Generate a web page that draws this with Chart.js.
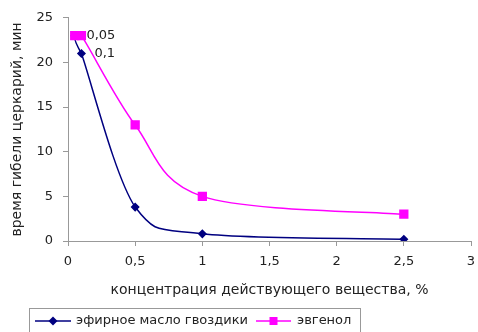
<!DOCTYPE html>
<html>
<head>
<meta charset="utf-8">
<script src="https://cdn.jsdelivr.net/npm/chart.js@4"></script>
<style>
  html, body { margin: 0; padding: 0; background: #fff; }
  #wrap { width: 478px; height: 332px; }
</style>
</head>
<body>
<div id="wrap"><canvas id="chart" width="478" height="332"></canvas></div>
<script>
'use strict';

/* ── Data ───────────────────────────────────────────────────────── */
const cloveX   = [0.05, 0.1, 0.5, 1, 2.5];
const cloveY   = [23, 21, 3.8, 0.8, 0.2];
const eugenolX = [0.05, 0.1, 0.5, 1, 2.5];
const eugenolY = [23, 23, 13, 5, 3];
const seriesNames = ['эфирное масло гвоздики', 'эвгенол'];
const xTitle = 'концентрация действующего вещества, %';
const yTitle = 'время гибели церкарий, мин';
// point labels: [datasetIndex, pointIndex, text]
const pointLabels = [[1, 1, '0,05'], [0, 1, '0,1']];

const FONT  = "'DejaVu Sans', sans-serif";
const TEXT  = '#222';
const BLUE  = '#000080';
const PINK  = '#FF00FF';

const toPts = (xs, ys) => xs.map((x, i) => ({ x, y: ys[i] }));
const clamp = (v, a, b) => Math.min(Math.max(v, Math.min(a, b)), Math.max(a, b));

/* ── Excel-like smoothing: control points = neighbour chord / 6 ── */
const excelSmooth = {
  id: 'excelSmooth',
  beforeDatasetsDraw(chart) {
    chart.data.datasets.forEach((d, i) => {
      const meta = chart.getDatasetMeta(i);
      meta.dataset.updateControlPoints(chart.chartArea, 'x');
      const pts = meta.data;
      pts.forEach((p, k) => {
        const prev = pts[Math.max(k - 1, 0)];
        const next = pts[Math.min(k + 1, pts.length - 1)];
        const dx = (next.x - prev.x) / 6, dy = (next.y - prev.y) / 6;
        p.cp1x = p.x - dx; p.cp1y = clamp(p.y - dy, p.y, prev.y);
        p.cp2x = p.x + dx; p.cp2y = clamp(p.y + dy, p.y, next.y);
      });
    });
  }
};

/* ── Point label plugin ─────────────────────────────────────────── */
const labelPlugin = {
  id: 'pointLabels',
  afterDatasetsDraw(chart) {
    const ctx = chart.ctx;
    ctx.save();
    ctx.font = '13px ' + FONT;
    ctx.fillStyle = TEXT;
    ctx.textBaseline = 'middle';
    pointLabels.forEach(([ds, idx, txt]) => {
      const el = chart.getDatasetMeta(ds).data[idx];
      if (!el) return;
      const dx = ds === 1 ? 5 : 13;
      ctx.fillText(txt, el.x + dx, el.y);
    });
    ctx.restore();
  }
};

/* ── Boxed legend plugin ────────────────────────────────────────── */
const legendBox = {
  id: 'legendBox',
  afterDraw(chart) {
    const ctx = chart.ctx;
    const y = 321;
    ctx.save();
    ctx.strokeStyle = '#999';
    ctx.lineWidth = 1;
    ctx.strokeRect(29.5, 308.5, 331, 40);
    ctx.font = '13px ' + FONT;
    ctx.textBaseline = 'middle';
    const items = [
      { ds: 0, x0: 35, x1: 71, tx: 76 },
      { ds: 1, x0: 256, x1: 291, tx: 297 }
    ];
    items.forEach(it => {
      const d = chart.data.datasets[it.ds];
      ctx.strokeStyle = d.borderColor;
      ctx.lineWidth = 1.5;
      ctx.beginPath(); ctx.moveTo(it.x0, y); ctx.lineTo(it.x1, y); ctx.stroke();
      const cx = (it.x0 + it.x1) / 2;
      ctx.fillStyle = d.pointBackgroundColor;
      if (d.pointStyle === 'rectRot') {
        ctx.beginPath();
        ctx.moveTo(cx, y - 4.5); ctx.lineTo(cx + 4.5, y); ctx.lineTo(cx, y + 4.5); ctx.lineTo(cx - 4.5, y);
        ctx.closePath(); ctx.fill();
      } else {
        ctx.fillRect(cx - 4, y - 4, 8, 8);
      }
      ctx.fillStyle = TEXT;
      ctx.fillText(d.label, it.tx, y);
    });
    ctx.restore();
  }
};

/* ── Chart ──────────────────────────────────────────────────────── */
new Chart(document.getElementById('chart'), {
  type: 'line',
  data: {
    datasets: [
      {
        label: seriesNames[0],
        data: toPts(cloveX, cloveY),
        borderColor: BLUE,
        backgroundColor: BLUE,
        pointBackgroundColor: BLUE,
        pointBorderColor: BLUE,
        pointStyle: 'rectRot',
        pointRadius: 3.5,
        borderWidth: 1.5,
        tension: 0.4,
        order: 1
      },
      {
        label: seriesNames[1],
        data: toPts(eugenolX, eugenolY),
        borderColor: PINK,
        backgroundColor: PINK,
        pointBackgroundColor: PINK,
        pointBorderColor: PINK,
        pointStyle: 'rect',
        pointRadius: 5.5,
        borderWidth: 1.5,
        tension: 0.4,
        order: 0
      }
    ]
  },
  options: {
    responsive: false,
    animation: false,
    layout: { padding: { top: 16, right: 0, bottom: 33, left: 0 } },
    plugins: { legend: { display: false }, tooltip: { enabled: false } },
    scales: {
      x: {
        type: 'linear',
        min: 0, max: 3,
        border: { color: '#999' },
        grid: { drawOnChartArea: false, tickLength: 5, color: '#999' },
        ticks: {
          stepSize: 0.5, padding: 8, color: TEXT,
          font: { family: FONT, size: 13 },
          callback: v => String(v).replace('.', ',')
        },
        title: {
          display: true, text: xTitle, color: TEXT,
          font: { family: FONT, size: 14 }, padding: 0
        },
        afterFit: s => { s.height = 58; s.paddingRight = 6; }
      },
      y: {
        min: 0, max: 25,
        border: { color: '#999' },
        grid: { drawOnChartArea: false, tickLength: 5, color: '#999' },
        ticks: {
          stepSize: 5, padding: 10, color: TEXT,
          font: { family: FONT, size: 13 }
        },
        title: {
          display: true, text: yTitle, color: TEXT,
          font: { family: FONT, size: 14 }, padding: { top: 9, bottom: 0 }
        },
        afterFit: s => { s.width = 68; }
      }
    }
  },
  plugins: [excelSmooth, labelPlugin, legendBox]
});
</script>
</body>
</html>
